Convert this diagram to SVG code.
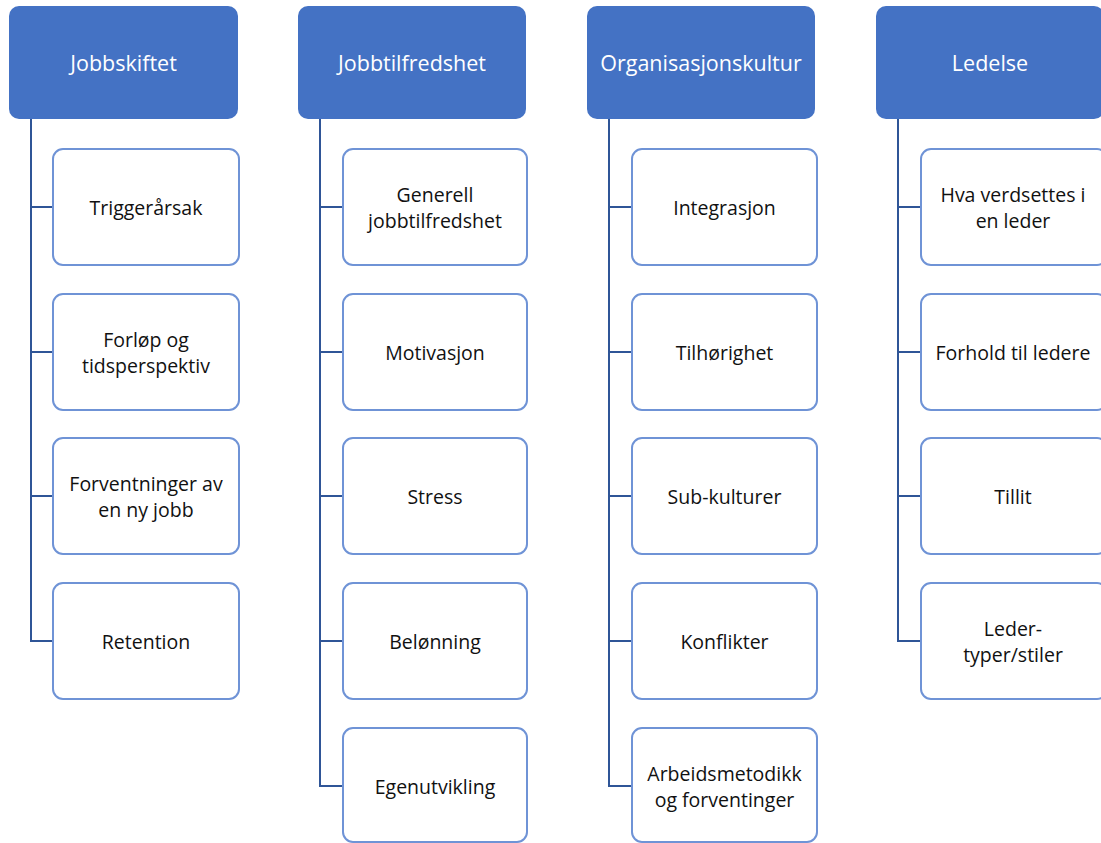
<svg xmlns="http://www.w3.org/2000/svg" width="1101" height="843" viewBox="0 0 1101 843">
<style>
.hdr{fill:#4472C4;}
.htx{fill:#FFFFFF;font-family:"Open Sans","Liberation Sans",sans-serif;font-size:21.5px;text-anchor:middle;dominant-baseline:central;}
.box{fill:#FFFFFF;stroke:#6F93D6;stroke-width:2;}
.btx{fill:#111111;font-family:"Open Sans","Liberation Sans",sans-serif;font-size:19.5px;text-anchor:middle;dominant-baseline:central;}
.con{fill:none;stroke:#2F5597;stroke-width:2;}
</style>
<rect width="1101" height="843" fill="#FFFFFF"/>
<g id="connectors">
<path class="con" d="M31,119 V641 H53 M31,207 H53 M31,352 H53 M31,496 H53"/>
<path class="con" d="M320,119 V786 H343 M320,207 H343 M320,352 H343 M320,496 H343 M320,641 H343"/>
<path class="con" d="M609,119 V786 H632 M609,207 H632 M609,352 H632 M609,496 H632 M609,641 H632"/>
<path class="con" d="M898,119 V641 H921 M898,207 H921 M898,352 H921 M898,496 H921"/>
</g>
<g id="h1"><rect class="hdr" x="9" y="6" width="229" height="113" rx="10"/><text class="htx" x="123.5" y="62">Jobbskiftet</text></g>
<g id="h2"><rect class="hdr" x="298" y="6" width="228" height="113" rx="10"/><text class="htx" x="412" y="62">Jobbtilfredshet</text></g>
<g id="h3"><rect class="hdr" x="587" y="6" width="228" height="113" rx="10"/><text class="htx" x="701" y="62">Organisasjonskultur</text></g>
<g id="h4"><rect class="hdr" x="876" y="6" width="228" height="113" rx="10"/><text class="htx" x="990" y="62">Ledelse</text></g>

<g id="c1a"><rect class="box" x="53" y="149" width="186" height="116" rx="10"/><text class="btx" x="146" y="207">Triggerårsak</text></g>
<g id="c1b"><rect class="box" x="53" y="294" width="186" height="116" rx="10"/><text class="btx" x="146" y="339">Forløp og</text><text class="btx" x="146" y="365">tidsperspektiv</text></g>
<g id="c1c"><rect class="box" x="53" y="438" width="186" height="116" rx="10"/><text class="btx" x="146" y="483">Forventninger av</text><text class="btx" x="146" y="509">en ny jobb</text></g>
<g id="c1d"><rect class="box" x="53" y="583" width="186" height="116" rx="10"/><text class="btx" x="146" y="641">Retention</text></g>

<g id="c2a"><rect class="box" x="343" y="149" width="184" height="116" rx="10"/><text class="btx" x="435" y="194">Generell</text><text class="btx" x="435" y="220">jobbtilfredshet</text></g>
<g id="c2b"><rect class="box" x="343" y="294" width="184" height="116" rx="10"/><text class="btx" x="435" y="352">Motivasjon</text></g>
<g id="c2c"><rect class="box" x="343" y="438" width="184" height="116" rx="10"/><text class="btx" x="435" y="496">Stress</text></g>
<g id="c2d"><rect class="box" x="343" y="583" width="184" height="116" rx="10"/><text class="btx" x="435" y="641">Belønning</text></g>
<g id="c2e"><rect class="box" x="343" y="728" width="184" height="114" rx="10"/><text class="btx" x="435" y="786">Egenutvikling</text></g>

<g id="c3a"><rect class="box" x="632" y="149" width="185" height="116" rx="10"/><text class="btx" x="724.5" y="207">Integrasjon</text></g>
<g id="c3b"><rect class="box" x="632" y="294" width="185" height="116" rx="10"/><text class="btx" x="724.5" y="352">Tilhørighet</text></g>
<g id="c3c"><rect class="box" x="632" y="438" width="185" height="116" rx="10"/><text class="btx" x="724.5" y="496">Sub-kulturer</text></g>
<g id="c3d"><rect class="box" x="632" y="583" width="185" height="116" rx="10"/><text class="btx" x="724.5" y="641">Konflikter</text></g>
<g id="c3e"><rect class="box" x="632" y="728" width="185" height="114" rx="10"/><text class="btx" x="724.5" y="773">Arbeidsmetodikk</text><text class="btx" x="724.5" y="799">og forventinger</text></g>

<g id="c4a"><rect class="box" x="921" y="149" width="186" height="116" rx="10"/><text class="btx" x="1013" y="194">Hva verdsettes i</text><text class="btx" x="1013" y="220">en leder</text></g>
<g id="c4b"><rect class="box" x="921" y="294" width="186" height="116" rx="10"/><text class="btx" x="1013" y="352">Forhold til ledere</text></g>
<g id="c4c"><rect class="box" x="921" y="438" width="186" height="116" rx="10"/><text class="btx" x="1013" y="496">Tillit</text></g>
<g id="c4d"><rect class="box" x="921" y="583" width="186" height="116" rx="10"/><text class="btx" x="1013" y="628">Leder-</text><text class="btx" x="1013" y="654">typer/stiler</text></g>
</svg>
